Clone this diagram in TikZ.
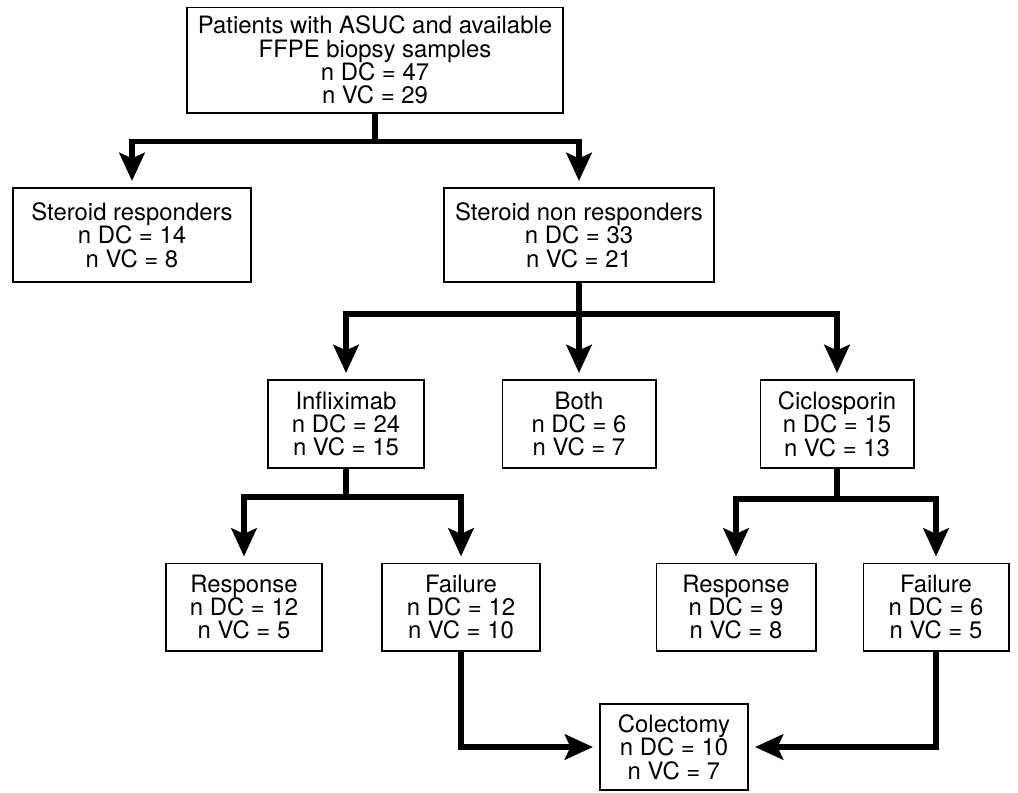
\documentclass[tikz,border=0pt]{standalone}
\usepackage{fontspec}
\setmainfont{TeX Gyre Heros}
\usetikzlibrary{arrows.meta}
\tikzset{
  casella/.style={draw, line width=1.4pt, align=center, inner sep=0pt, font=\fontsize{17}{16.6}\selectfont},
  freccia/.style={line width=3.9pt, -{Stealth[length=20pt, width=18pt, inset=4pt]}, shorten >=4.3pt}
}
\begin{document}
\begin{tikzpicture}[x=0.025cm, y=-0.025cm]
         \useasboundingbox (0,0) rectangle (1018,792);
         %radice
         \node[casella, minimum width=9.4cm, minimum height=2.625cm] (pazienti) at (375,60) {Patients with ASUC and available\\FFPE biopsy samples\\n DC = 47\\n VC = 29};
         %steroidi
         \node[casella, minimum width=5.95cm, minimum height=2.35cm] (resp) at (132,235) {Steroid responders\\n DC = 14\\n VC = 8};
         \node[casella, minimum width=6.75cm, minimum height=2.35cm] (nonresp) at (579,235) {Steroid non responders\\n DC = 33\\n VC = 21};
         %terapie
         \node[casella, minimum width=3.9cm, minimum height=2.2cm] (ifx) at (346,424) {Infliximab\\n DC = 24\\n VC = 15};
         \node[casella, minimum width=3.825cm, minimum height=2.2cm] (both) at (579,424) {Both\\n DC = 6\\n VC = 7};
         \node[casella, minimum width=3.825cm, minimum height=2.2cm] (csa) at (837,424) {Ciclosporin\\n DC = 15\\n VC = 13};
         %esiti
         \node[casella, minimum width=3.9cm, minimum height=2.175cm] (ifxresp) at (244,607) {Response\\n DC = 12\\n VC = 5};
         \node[casella, minimum width=3.95cm, minimum height=2.175cm] (ifxfail) at (461,607) {Failure\\n DC = 12\\n VC = 10};
         \node[casella, minimum width=3.975cm, minimum height=2.175cm] (csaresp) at (736,607) {Response\\n DC = 9\\n VC = 8};
         \node[casella, minimum width=3.625cm, minimum height=2.175cm] (csafail) at (936,607) {Failure\\n DC = 6\\n VC = 5};
         %colectomia
         \node[casella, minimum width=3.7cm, minimum height=2.15cm] (colect) at (674,747) {Colectomy\\n DC = 10\\n VC = 7};
         %frecce
         \draw[freccia] (pazienti.south) -- ++(0,28) -| (resp.north);
         \draw[freccia] (pazienti.south) -- ++(0,28) -| (nonresp.north);
         \draw[freccia] (nonresp.south) -- ++(0,31) -| (ifx.north);
         \draw[freccia] (nonresp.south) -- (both.north);
         \draw[freccia] (nonresp.south) -- ++(0,31) -| (csa.north);
         \draw[freccia] (ifx.south) -- ++(0,28) -| (ifxresp.north);
         \draw[freccia] (ifx.south) -- ++(0,28) -| (ifxfail.north);
         \draw[freccia] (csa.south) -- ++(0,30) -| (csaresp.north);
         \draw[freccia] (csa.south) -- ++(0,30) -| (csafail.north);
         \draw[freccia] (ifxfail.south) |- (colect.west);
         \draw[freccia] (csafail.south) |- (colect.east);
\end{tikzpicture}
\end{document}
